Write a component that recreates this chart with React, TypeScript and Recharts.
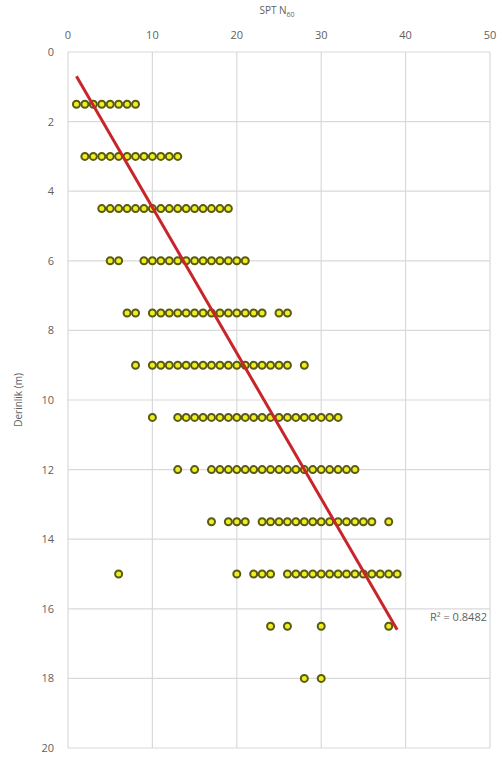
import React from "react";
import { ScatterChart, Scatter, XAxis, YAxis, CartesianGrid, Customized } from "recharts";

// Depth levels (m) and SPT N60 values recorded at each level
const depths = [1.5, 3, 4.5, 6, 7.5, 9, 10.5, 12, 13.5, 15, 16.5, 18];
const range = (a: number, b: number) => { const r: number[] = []; for (let i = a; i <= b; i++) r.push(i); return r; };
const nAt1_5 = range(1, 8);
const nAt3 = range(2, 13);
const nAt4_5 = range(4, 19);
const nAt6 = [5, 6, ...range(9, 21)];
const nAt7_5 = [7, 8, ...range(10, 23), 25, 26];
const nAt9 = [8, ...range(10, 26), 28];
const nAt10_5 = [10, ...range(13, 32)];
const nAt12 = [13, 15, ...range(17, 34)];
const nAt13_5 = [17, 19, 20, 21, ...range(23, 36), 38];
const nAt15 = [6, 20, 22, 23, 24, ...range(26, 39)];
const nAt16_5 = [24, 26, 30, 38];
const nAt18 = [28, 30];
const nRows = [nAt1_5, nAt3, nAt4_5, nAt6, nAt7_5, nAt9, nAt10_5, nAt12, nAt13_5, nAt15, nAt16_5, nAt18];

// Linear trendline endpoints (N, depth)
const trendN = [1, 39];
const trendDepth = [0.7, 16.6];
const rSquaredText = "R² = 0.8482";

const xTicks = [0, 10, 20, 30, 40, 50];
const yTicks = [0, 2, 4, 6, 8, 10, 12, 14, 16, 18, 20];

const points = depths.flatMap((d, i) => nRows[i].map((n) => ({ n, d })));
const trend = trendN.map((n, i) => ({ n, d: trendDepth[i] }));

const FONT = "'Open Sans', 'Liberation Sans', sans-serif";
const TICK = { fill: "#5f5f5f", fontSize: 11, fontFamily: FONT };

const Dot = (p: any) => (
  <circle cx={p.cx} cy={p.cy} r={3.5} fill="#eeee20" stroke="#5a5a14" strokeWidth={2} />
);

export default function App() {
  return (
    <div style={{ position: "absolute", left: 0, top: 0, background: "#fff" }}>
      <ScatterChart width={498} height={772} margin={{ top: 0, right: 8, bottom: 24, left: 0 }}>
        <CartesianGrid stroke="#d9d9d9" strokeWidth={1.2} />
        <XAxis
          type="number"
          dataKey="n"
          orientation="top"
          domain={[0, 50]}
          ticks={xTicks}
          height={52}
          axisLine={false}
          tickLine={false}
          tickSize={8}
          tickMargin={5}
          tick={TICK}
          allowDataOverflow
        />
        <YAxis
          type="number"
          dataKey="d"
          reversed
          domain={[0, 20]}
          ticks={yTicks}
          width={68}
          axisLine={false}
          tickLine={false}
          tickSize={8}
          tickMargin={6}
          tick={TICK}
          allowDataOverflow
        />
        <Scatter data={points} shape={Dot} isAnimationActive={false} />
        <Scatter
          data={trend}
          line={{ stroke: "#c8252b", strokeWidth: 3 }}
          shape={() => null}
          isAnimationActive={false}
        />
        <Customized
          component={() => (
            <g fontFamily={FONT}>
              <text x={277} y={14} textAnchor="middle" fontSize={10} fill="#5f5f5f">
                SPT N<tspan fontSize={7} dy={3}>60</tspan>
              </text>
              <text
                x={22}
                y={400}
                textAnchor="middle"
                fontSize={10}
                fill="#5f5f5f"
                transform="rotate(-90 22 400)"
              >
                Derinlik  (m)
              </text>
              <text x={430} y={621} fontSize={11} fill="#5f5f5f">
                {rSquaredText}
              </text>
            </g>
          )}
        />
      </ScatterChart>
    </div>
  );
}
